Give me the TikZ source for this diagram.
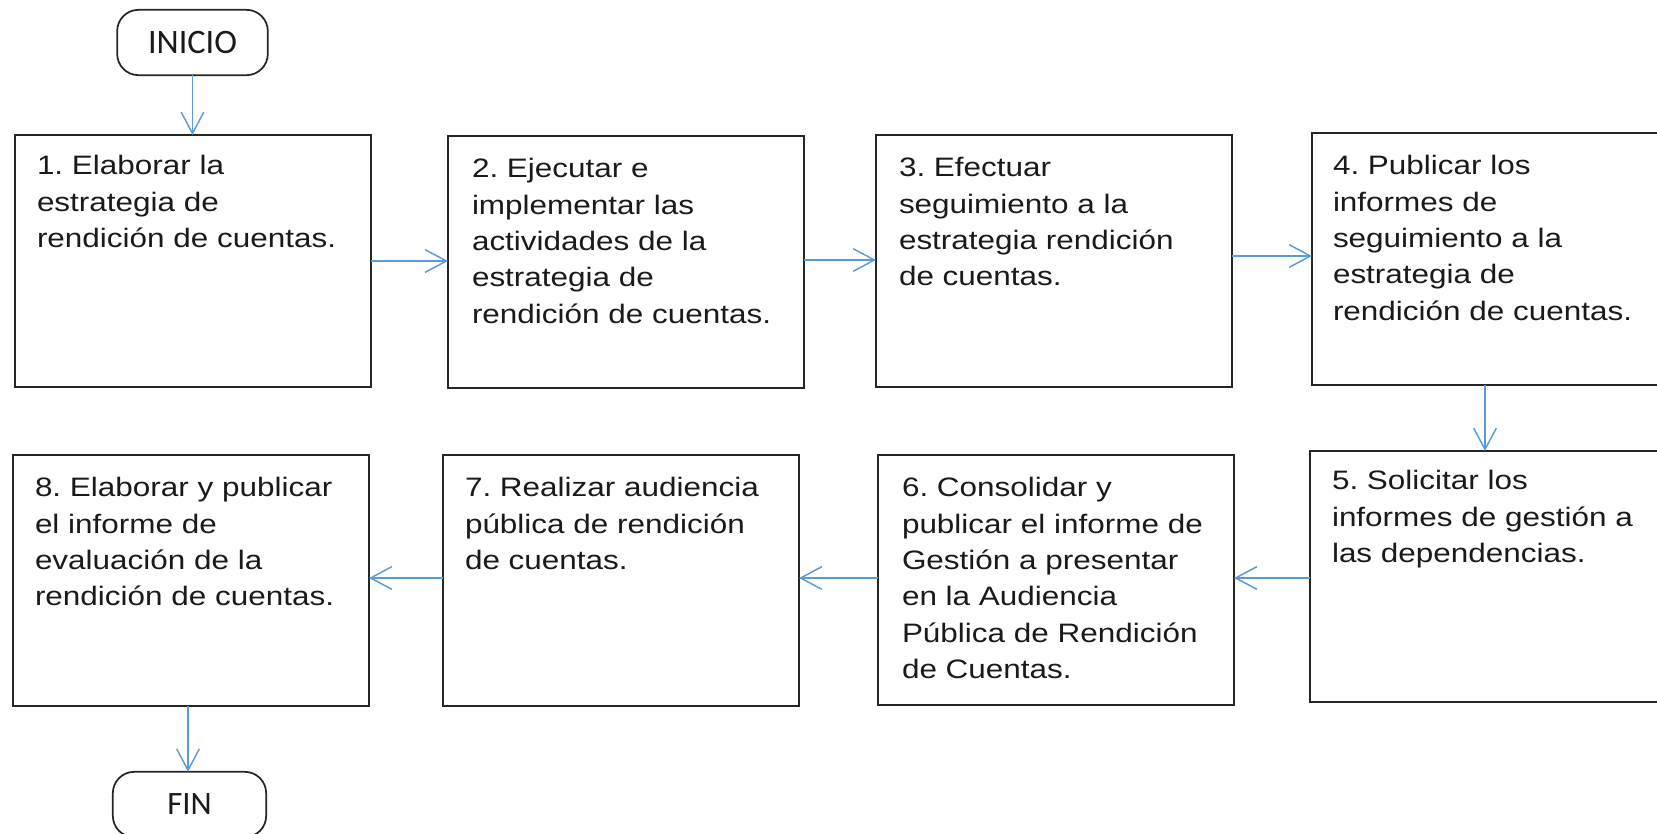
\documentclass[tikz,border=0pt]{standalone}
\usepackage{fontspec}
\setmainfont{Liberation Sans}[FakeStretch=1.18]
\newfontfamily\termfont{Carlito}
\usetikzlibrary{arrows.meta}
\definecolor{arrblue}{HTML}{5B9BD5}
\definecolor{boxline}{HTML}{262626}
\definecolor{txt}{HTML}{1A1A1A}
\newcommand\fl{\rule{0pt}{20pt}}
\tikzset{
  stepbox/.style={draw=boxline, line width=1.3pt, fill=none, outer sep=0pt, inner sep=0pt,
    minimum width=267pt, minimum height=189pt},
  steptext/.style={anchor=north west, inner sep=0pt, outer sep=0pt, align=left, text=txt,
    font=\frenchspacing\fontsize{20}{27.2}\selectfont},
  term/.style={draw=boxline, line width=1.3pt, rounded corners=16pt, outer sep=0pt, inner sep=0pt,
    minimum width=113pt, minimum height=49pt, text=txt, font=\termfont\fontsize{25.7}{29}\selectfont},
  arr/.style={draw=arrblue, line width=1.1pt, -{Straight Barb[length=16pt,width=17pt]}}
}
\begin{document}
\begin{tikzpicture}[x=0.75pt,y=-0.75pt]
\useasboundingbox (0,0) rectangle (1657,833);
% terminals
\node[term] (ini) at (192.5,42.5) {INICIO};
\node[term, minimum width=115pt, font=\termfont\fontsize{24.5}{28}\selectfont] (fin) at (189.5,804.5) {FIN};
% boxes
\node[stepbox] (b1) at (193,261) {};
\node[stepbox] (b2) at (626,262) {};
\node[stepbox] (b3) at (1054,261) {};
\node[stepbox] (b4) at (1490,259) {};
\node[stepbox, minimum height=188.25pt] (b5) at (1488,576.5) {};
\node[stepbox, minimum height=187.5pt] (b6) at (1056,580) {};
\node[stepbox, minimum height=188.25pt] (b7) at (621,580.5) {};
\node[stepbox, minimum height=188.25pt] (b8) at (191,580.5) {};
% texts
\node[steptext] (t1) at (37,148.3) {\fl 1. Elaborar la\\estrategia de\\rendición de cuentas.};
\node[steptext] (t2) at (472,151.3) {\fl 2. Ejecutar e\\implementar las\\actividades de la\\estrategia de\\rendición de cuentas.};
\node[steptext] (t3) at (899,150.3) {\fl 3. Efectuar\\seguimiento a la\\estrategia rendición\\de cuentas.};
\node[steptext] (t4) at (1333,148.3) {\fl 4. Publicar los\\informes de\\seguimiento a la\\estrategia de\\rendición de cuentas.};
\node[steptext] (t5) at (1332,463.3) {\fl 5. Solicitar los\\informes de gestión a\\las dependencias.};
\node[steptext] (t6) at (902,470.3) {\fl 6. Consolidar y\\publicar el informe de\\Gestión a presentar\\en la Audiencia\\Pública de Rendición\\de Cuentas.};
\node[steptext] (t7) at (465,470.3) {\fl 7. Realizar audiencia\\pública de rendición\\de cuentas.};
\node[steptext] (t8) at (35,470.3) {\fl 8. Elaborar y publicar\\el informe de\\evaluación de la\\rendición de cuentas.};
% connectors
\draw[arr] (ini.south) -- (ini.south |- b1.north);
\draw[arr] (b1.east) -- (b1.east -| b2.west);
\draw[arr] ([yshift=1.5pt]b2.east) -- ([yshift=1.5pt]b2.east -| b3.west);
\draw[arr] ([yshift=3.75pt]b3.east) -- ([yshift=3.75pt]b3.east -| b4.west);
\draw[arr] ([xshift=-3.75pt]b4.south) -- ([xshift=-3.75pt]b4.south |- b5.north);
\draw[arr] ([yshift=-1.1pt]b5.west) -- ([yshift=-1.1pt]b5.west -| b6.east);
\draw[arr] ([yshift=1.5pt]b6.west) -- ([yshift=1.5pt]b6.west -| b7.east);
\draw[arr] ([yshift=1.9pt]b7.west) -- ([yshift=1.9pt]b7.west -| b8.east);
\draw[arr] ([xshift=-2.25pt]b8.south) -- ([xshift=-2.25pt]b8.south |- fin.north);
\end{tikzpicture}
\end{document}
